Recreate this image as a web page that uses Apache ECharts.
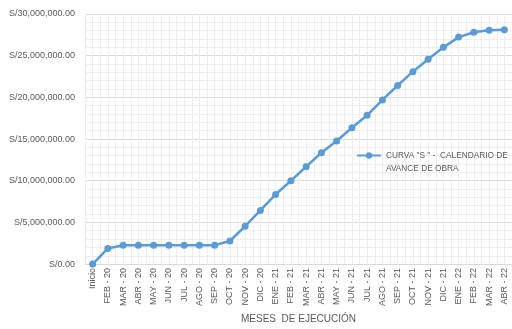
<!DOCTYPE html>
<html>
<head>
<meta charset="utf-8">
<script src="https://cdn.jsdelivr.net/npm/echarts@6/dist/echarts.min.js"></script>
<style>
  html, body { margin: 0; padding: 0; background: #ffffff; }
  #chart { width: 512px; height: 329px; }
</style>
</head>
<body>
<div id="chart"></div>
<script>
// Months of execution (x axis categories)
const months = [
  'Inicio', 'FEB - 20', 'MAR - 20', 'ABR - 20', 'MAY - 20', 'JUN - 20', 'JUL - 20',
  'AGO - 20', 'SEP - 20', 'OCT - 20', 'NOV - 20', 'DIC - 20', 'ENE - 21', 'FEB - 21',
  'MAR - 21', 'ABR - 21', 'MAY - 21', 'JUN - 21', 'JUL - 21', 'AGO - 21', 'SEP - 21',
  'OCT - 21', 'NOV - 21', 'DIC - 21', 'ENE - 22', 'FEB - 22', 'MAR - 22', 'ABR - 22'
];

// Cumulative scheduled progress (S/)
const accumulated = [
  0, 1880000, 2270000, 2270000, 2270000, 2270000, 2270000,
  2270000, 2270000, 2770000, 4540000, 6440000, 8350000, 10000000,
  11690000, 13350000, 14770000, 16350000, 17850000, 19690000, 21420000,
  23080000, 24580000, 26000000, 27230000, 27810000, 28040000, 28120000
];

const seriesName = 'CURVA "S " -  CALENDARIO DE AVANCE DE OBRA';
// blank first row keeps the legend symbol level with the first text row
const legendLines = ' \nCURVA "S " -  CALENDARIO DE\nAVANCE DE OBRA';
const xTitle = 'MESES  DE EJECUCIÓN';

function soles(v) {
  const s = Math.round(v).toString().replace(/\B(?=(\d{3})+(?!\d))/g, ',');
  return 'S/' + s + '.00';
}

const chart = echarts.init(document.getElementById('chart'), null, { renderer: 'canvas' });
const font = '"Liberation Sans", Arial, sans-serif';

chart.setOption({
  animation: false,
  textStyle: { fontFamily: font },
  grid: { left: 85, right: -5, top: 14, bottom: 55, containLabel: false },
  legend: {
    show: true,
    left: 351,
    top: 131,
    itemWidth: 24,
    itemHeight: 8,
    itemGap: 2,
    data: [seriesName],
    formatter: () => legendLines,
    textStyle: { color: '#595959', fontSize: 8.3, lineHeight: 13, fontFamily: font }
  },
  xAxis: [
    {
      type: 'category',
      data: months,
      boundaryGap: true,
      name: xTitle,
      nameLocation: 'middle',
      nameGap: 44,
      nameTextStyle: { color: '#595959', fontSize: 10, fontFamily: font },
      axisLine: { show: true, lineStyle: { color: '#d9d9d9', width: 1 } },
      axisTick: { show: false },
      axisLabel: { rotate: 90, interval: 0, color: '#595959', fontSize: 9, margin: 4, fontFamily: font },
      splitLine: { show: false }
    },
    {
      // half-category grid for the fine vertical lines
      type: 'value',
      min: -0.5,
      max: 27.5,
      interval: 0.5,
      show: true,
      position: 'bottom',
      axisLine: { show: false },
      axisTick: { show: false },
      axisLabel: { show: false },
      splitLine: { show: true, lineStyle: { color: '#ededed', width: 1 } }
    }
  ],
  yAxis: {
    type: 'value',
    min: 0,
    max: 30000000,
    interval: 5000000,
    axisLine: { show: false },
    axisTick: { show: false },
    axisLabel: { color: '#595959', fontSize: 9, margin: 10, formatter: soles, fontFamily: font },
    splitLine: { show: true, lineStyle: { color: '#d9d9d9', width: 1 } },
    minorTick: { show: false, splitNumber: 5 },
    minorSplitLine: { show: true, lineStyle: { color: '#ededed', width: 1 } }
  },
  series: [
    {
      name: seriesName,
      type: 'line',
      xAxisIndex: 0,
      data: accumulated,
      symbol: 'circle',
      symbolSize: 7,
      showSymbol: true,
      lineStyle: { color: '#5b9bd5', width: 2.5 },
      itemStyle: { color: '#5b9bd5' },
      z: 5
    }
  ]
});
</script>
</body>
</html>
